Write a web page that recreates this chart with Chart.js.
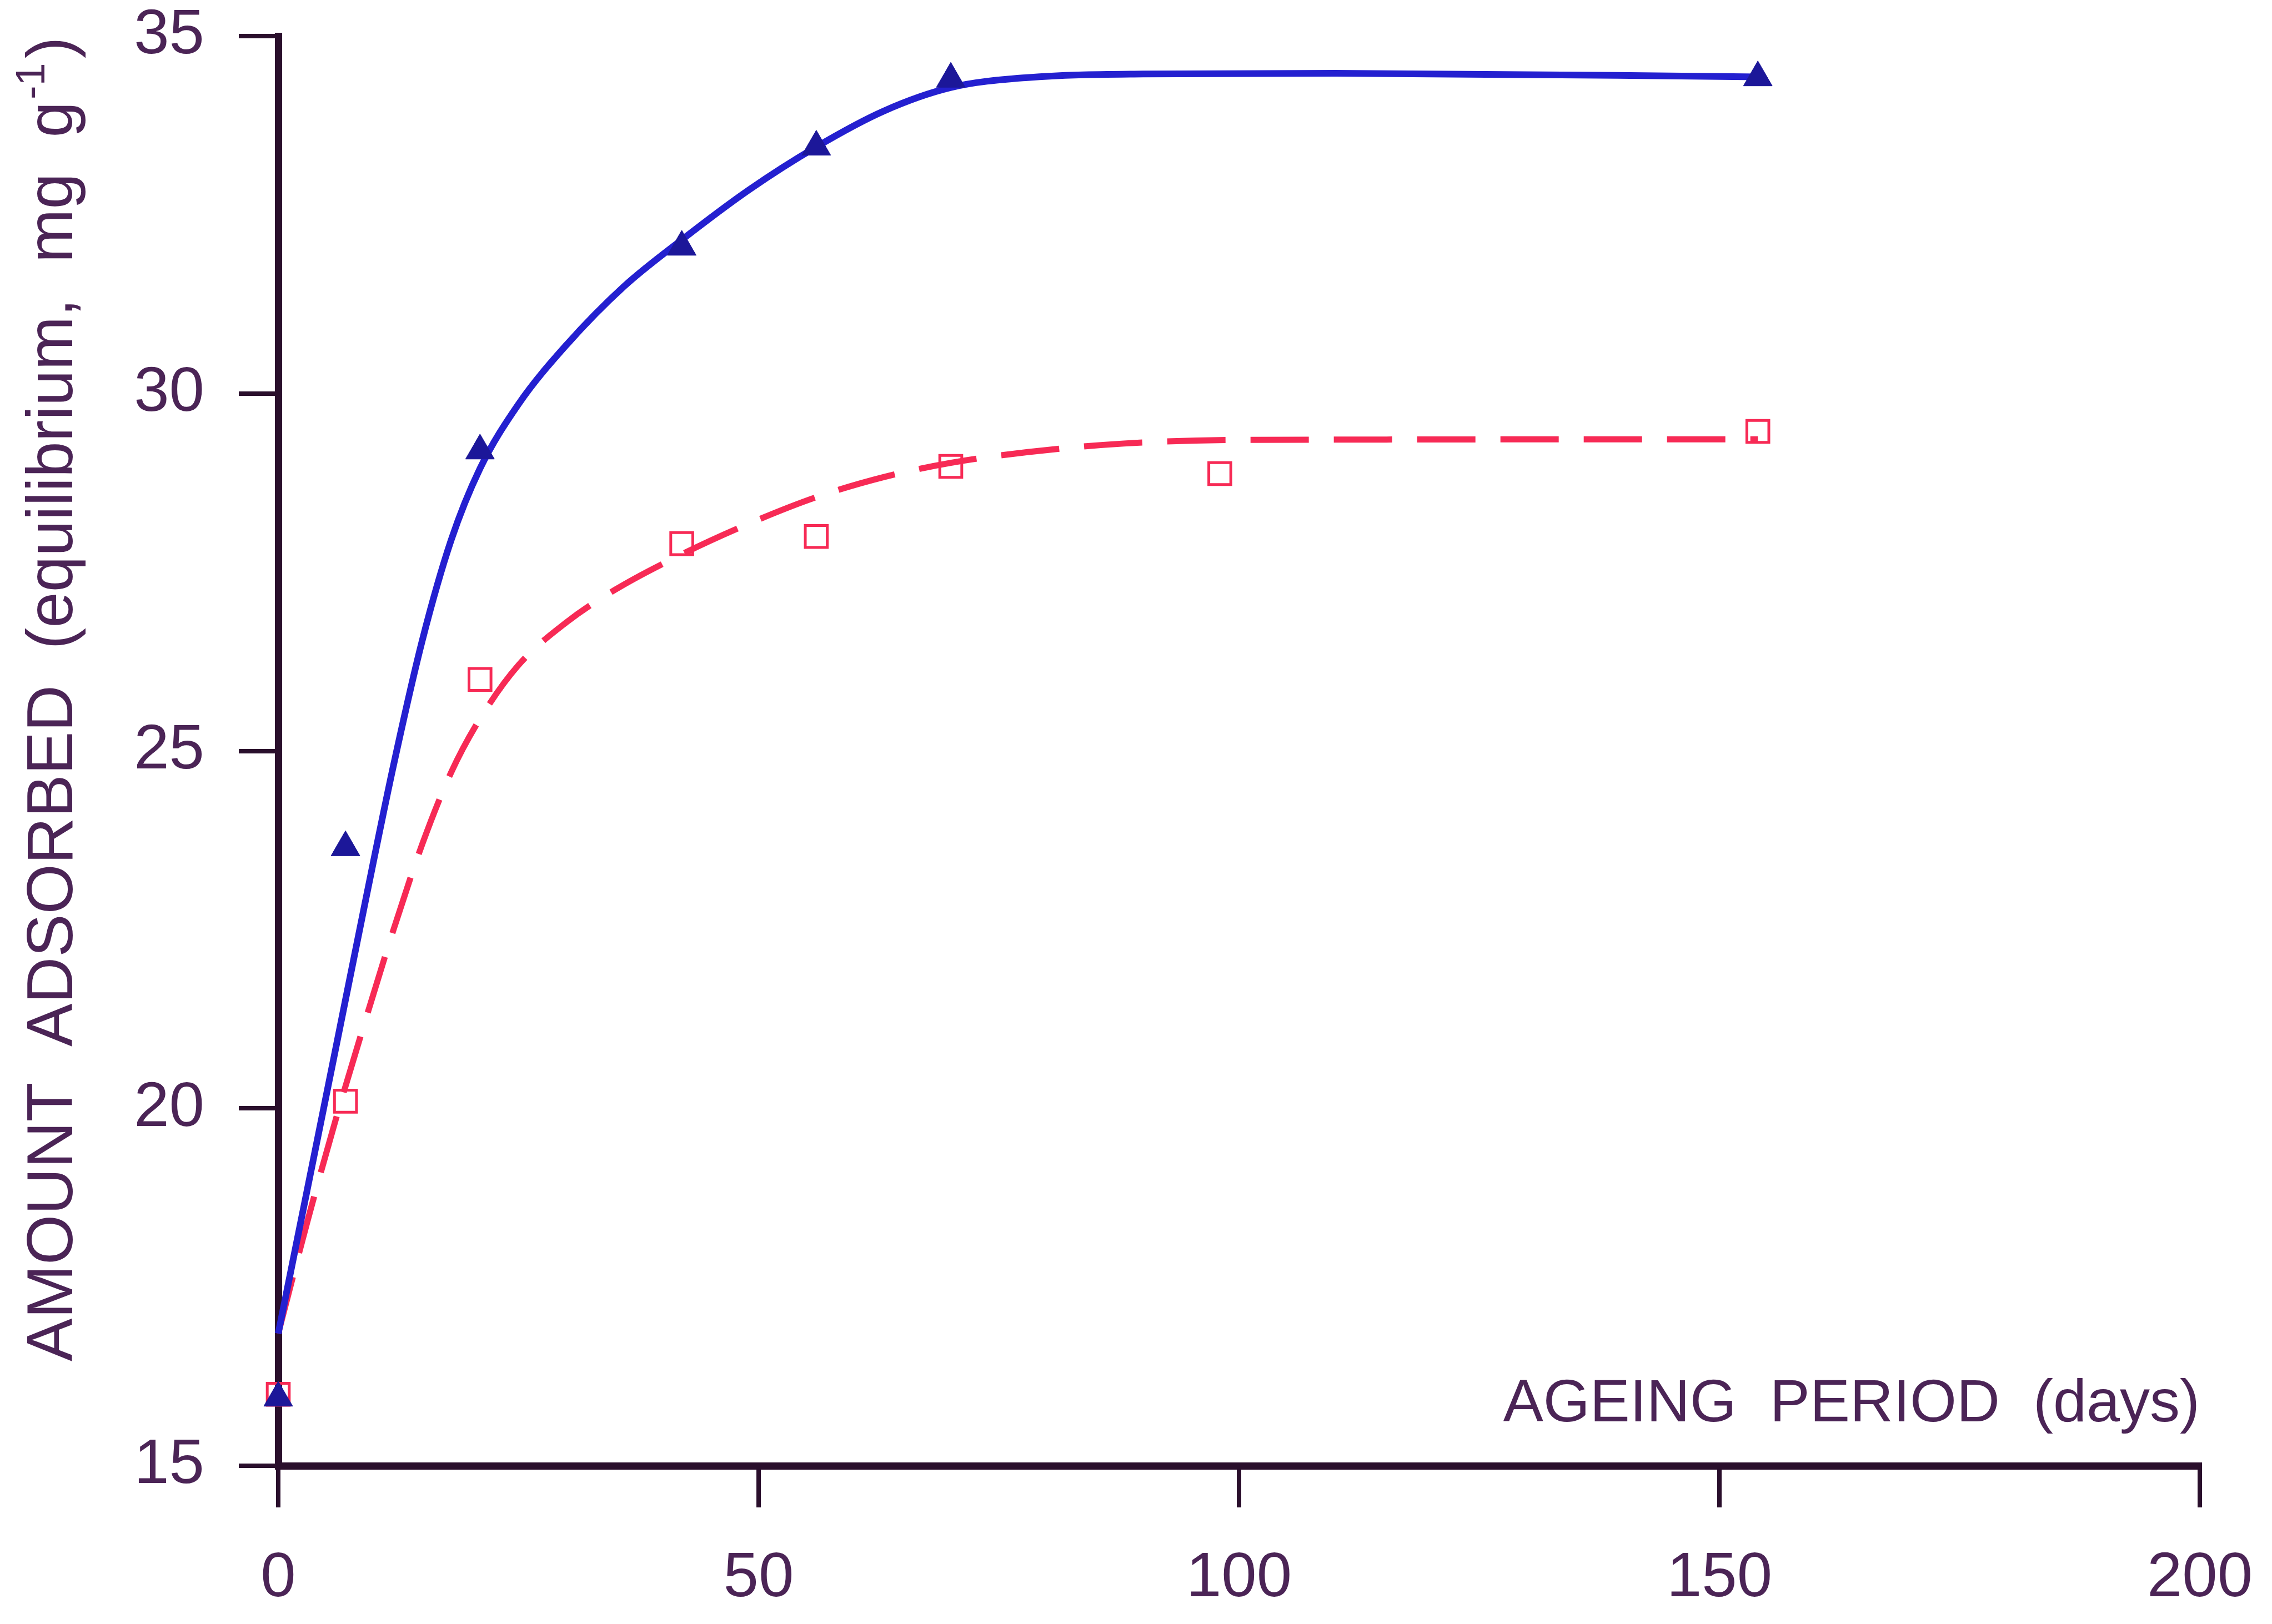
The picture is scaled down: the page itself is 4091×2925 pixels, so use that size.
<!DOCTYPE html>
<html>
<head>
<meta charset="utf-8">
<title>Amount adsorbed vs ageing period</title>
<script src="https://cdn.jsdelivr.net/npm/chart.js@4/dist/chart.umd.min.js"></script>
<style>
  html, body { margin: 0; padding: 0; background: #ffffff; }
  #wrap { width: 4091px; height: 2925px; }
</style>
</head>
<body>
<div id="wrap"><canvas id="ageChart" width="4091" height="2925"></canvas></div>
<script>
// ── Data ───────────────────────────────────────────────────────
// measured points
const triDays   = [0, 7, 21, 42, 56, 70, 154];
const triValues = [15.95, 23.65, 29.2, 32.05, 33.45, 34.4, 34.42];

const sqDays    = [0, 7, 21, 42, 56, 70, 98, 154];
const sqValues  = [16.0, 20.1, 26.0, 27.9, 28.0, 28.98, 28.88, 29.47];

// fitted curves
const triFitDays = [0, 3, 6, 9, 12, 15, 18, 21, 25, 30, 36, 42, 49, 56, 63, 70, 78, 90, 110, 154];
const triFitVals = [16.85, 18.85, 20.85, 22.85, 24.8, 26.55, 27.95, 28.95, 29.85, 30.68, 31.5, 32.15, 32.85, 33.45, 33.95, 34.28, 34.42, 34.47, 34.48, 34.43];

const sqFitDays = [0, 3, 6, 9, 12, 15, 18, 21, 25, 30, 35, 42, 49, 56, 63, 70, 78, 88, 100, 154];
const sqFitVals = [16.85, 18.4, 19.85, 21.2, 22.5, 23.7, 24.7, 25.45, 26.2, 26.8, 27.25, 27.75, 28.18, 28.55, 28.83, 29.03, 29.18, 29.3, 29.35, 29.36];

// axis ticks
const xTicks = [0, 50, 100, 150, 200];
const yTicks = [15, 20, 25, 30, 35];

const xTitle = 'AGEING  PERIOD  (days)';
const yTitleMain = 'AMOUNT  ADSORBED  (equilibrium,  mg  g';
const yTitleSup = '-1';
const yTitleEnd = ')';

// ── Styles ─────────────────────────────────────────────────────
const AXIS_COLOR  = '#2a0f2c';
const LABEL_COLOR = '#4b2456';
const BLUE        = '#2420d0';
const BLUE_DARK   = '#1c1799';
const RED         = '#f72a55';
const FONT        = '"Liberation Sans", Arial, Helvetica, sans-serif';

const toXY = (xs, ys) => xs.map((x, i) => ({ x, y: ys[i] }));

// ── Titles drawn by hand (placement inside the frame) ──────────
const titlePlugin = {
  id: 'axisTitles',
  afterDraw(chart) {
    const ctx = chart.ctx;
    const { left, right, bottom } = chart.chartArea;
    ctx.save();
    ctx.fillStyle = LABEL_COLOR;

    // x title sits inside the plot, right aligned
    ctx.font = `108px ${FONT}`;
    ctx.textAlign = 'right';
    ctx.textBaseline = 'alphabetic';
    ctx.fillText(xTitle, right, bottom - 80);

    // y title, rotated, with superscript
    ctx.translate(left - 371, 2452);
    ctx.rotate(-Math.PI / 2);
    ctx.textAlign = 'left';
    ctx.font = `116px ${FONT}`;
    ctx.fillText(yTitleMain, 0, 0);
    let w = ctx.measureText(yTitleMain).width;
    ctx.font = `74px ${FONT}`;
    ctx.fillText(yTitleSup, w + 4, -50);
    w += ctx.measureText(yTitleSup).width + 12;
    ctx.font = `116px ${FONT}`;
    ctx.fillText(yTitleEnd, w, 0);
    ctx.restore();
  },
};

// ── Chart ──────────────────────────────────────────────────────
const ctx = document.getElementById('ageChart').getContext('2d');

new Chart(ctx, {
  type: 'scatter',
  data: {
    datasets: [
      {
        label: 'triangles',
        data: toXY(triDays, triValues),
        showLine: false,
        pointStyle: 'triangle',
        pointRadius: 30,
        pointBackgroundColor: BLUE_DARK,
        pointBorderColor: BLUE_DARK,
        pointBorderWidth: 1,
        clip: false,
        order: 0,
      },
      {
        label: 'squares',
        data: toXY(sqDays, sqValues),
        showLine: false,
        pointStyle: 'rect',
        pointRadius: 28,
        pointBackgroundColor: 'rgba(255,255,255,0)',
        pointBorderColor: RED,
        pointBorderWidth: 5,
        clip: false,
        order: 1,
      },
      {
        label: 'triangle fit',
        data: toXY(triFitDays, triFitVals),
        showLine: true,
        borderColor: BLUE,
        borderWidth: 12,
        pointRadius: 0,
        cubicInterpolationMode: 'monotone',
        clip: false,
        order: 2,
      },
      {
        label: 'square fit',
        data: toXY(sqFitDays, sqFitVals),
        showLine: true,
        borderColor: RED,
        borderWidth: 11,
        borderDash: [105, 45],
        pointRadius: 0,
        cubicInterpolationMode: 'monotone',
        clip: false,
        order: 3,
      },
    ],
  },
  options: {
    responsive: false,
    devicePixelRatio: 1,
    animation: false,
    layout: { padding: { left: 0, right: 130, top: 65, bottom: 0 } },
    plugins: {
      legend: { display: false },
      tooltip: { enabled: false },
    },
    scales: {
      x: {
        type: 'linear',
        min: 0,
        max: 200,
        afterBuildTicks: s => { s.ticks = xTicks.map(v => ({ value: v })); },
        afterFit: s => {
          s.height = 285;
          s.paddingLeft = 0;
          s.paddingRight = 0;
        },
        ticks: {
          color: LABEL_COLOR,
          font: { family: FONT, size: 114 },
          padding: 60,
          maxRotation: 0,
        },
        grid: {
          drawOnChartArea: false,
          drawTicks: true,
          tickLength: 75,
          color: AXIS_COLOR,
          lineWidth: 8,
        },
        border: { display: true, color: AXIS_COLOR, width: 13 },
      },
      y: {
        type: 'linear',
        min: 15,
        max: 35,
        afterBuildTicks: s => { s.ticks = yTicks.map(v => ({ value: v })); },
        afterFit: s => {
          s.width = 501;
          s.paddingTop = 0;
          s.paddingBottom = 0;
        },
        ticks: {
          color: LABEL_COLOR,
          font: { family: FONT, size: 114 },
          padding: 62,
        },
        grid: {
          drawOnChartArea: false,
          drawTicks: true,
          tickLength: 71,
          color: AXIS_COLOR,
          lineWidth: 8,
        },
        border: { display: true, color: AXIS_COLOR, width: 13 },
      },
    },
  },
  plugins: [titlePlugin],
});
</script>
</body>
</html>
